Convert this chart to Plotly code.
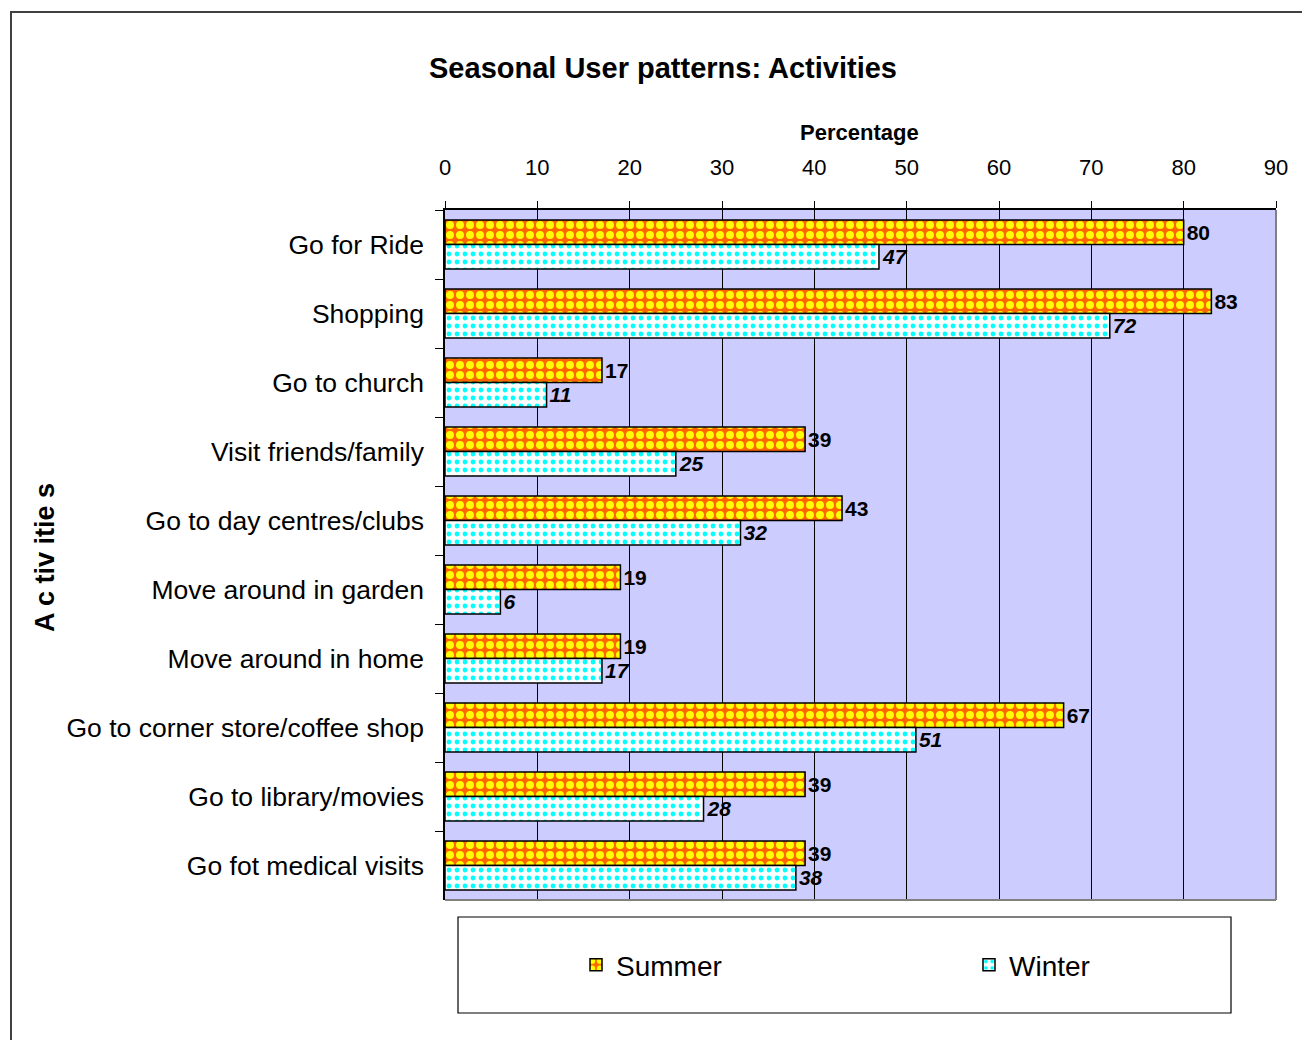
import plotly.graph_objects as go

# Activity categories, top to bottom
activities = [
    "Go for Ride",
    "Shopping",
    "Go to church",
    "Visit friends/family",
    "Go to day centres/clubs",
    "Move around in garden",
    "Move around in home",
    "Go to corner store/coffee shop",
    "Go to library/movies",
    "Go fot medical visits",
]

# Percentage of users doing each activity per season
summer = [80, 83, 17, 39, 43, 19, 19, 67, 39, 39]
winter = [47, 72, 11, 25, 32, 6, 17, 51, 28, 38]

x_ticks = [0, 10, 20, 30, 40, 50, 60, 70, 80, 90]

FONT = "Liberation Sans, Arial, sans-serif"

fig = go.Figure()

fig.add_trace(go.Bar(
    name="Summer",
    y=activities,
    x=summer,
    orientation="h",
    marker=dict(
        color="#FF6600",
        line=dict(color="black", width=1.5),
        pattern=dict(shape=".", bgcolor="#FF6600", fgcolor="#FFFF00",
                     size=10, solidity=0.5, fillmode="replace"),
    ),
    text=[str(v) for v in summer],
    textposition="outside",
    textfont=dict(family=FONT, size=21, color="black", weight="bold"),
    cliponaxis=False,
))

fig.add_trace(go.Bar(
    name="Winter",
    y=activities,
    x=winter,
    orientation="h",
    marker=dict(
        color="#FFFFFF",
        line=dict(color="black", width=1.5),
        pattern=dict(shape=".", bgcolor="#FFFFFF", fgcolor="#00FFFF",
                     size=8, solidity=0.28, fillmode="replace"),
    ),
    text=[str(v) for v in winter],
    textposition="outside",
    textfont=dict(family=FONT, size=21, color="black", weight="bold",
                  style="italic"),
    cliponaxis=False,
))

L, R, T, B = 445, 26, 210, 140
W, H = 1302, 1040
pw, ph = W - L - R, H - T - B


def px_x(x):
    return (x - L) / pw


def px_y(y):
    return (H - B - y) / ph


fig.update_layout(
    width=W,
    height=H,
    autosize=False,
    margin=dict(l=L, r=R, t=T, b=B, pad=0, autoexpand=False),
    paper_bgcolor="white",
    plot_bgcolor="#CCCCFF",
    barmode="group",
    bargap=0.29,
    bargroupgap=0.0,
    font=dict(family=FONT, color="black"),
    title=dict(
        text="Seasonal User patterns: Activities",
        x=663 / W, xanchor="center",
        y=1 - 68 / H, yanchor="middle",
        font=dict(family=FONT, size=29, weight="bold", color="black"),
    ),
    xaxis=dict(
        side="top",
        range=[0, 90],
        tickvals=x_ticks,
        ticktext=[str(t) for t in x_ticks],
        showgrid=True,
        gridcolor="black",
        gridwidth=1,
        showline=True,
        linecolor="black",
        linewidth=1.5,
        ticks="outside",
        ticklen=7,
        tickcolor="black",
        ticklabelstandoff=17,
        tickfont=dict(family=FONT, size=22, color="black"),
        zeroline=False,
        automargin=False,
        fixedrange=True,
    ),
    yaxis=dict(
        categoryorder="array",
        categoryarray=activities,
        autorange="reversed",
        showline=True,
        linecolor="black",
        linewidth=1.5,
        ticks="outside",
        tickson="boundaries",
        ticklen=8,
        tickcolor="black",
        ticklabelstandoff=14,
        tickfont=dict(family=FONT, size=26.5, color="black"),
        showgrid=False,
        automargin=False,
        fixedrange=True,
    ),
    legend=dict(
        orientation="h",
        x=px_x(576), xanchor="left",
        y=px_y(965), yanchor="middle",
        font=dict(family=FONT, size=28, color="black"),
        entrywidth=348,
        entrywidthmode="pixels",
        bgcolor="rgba(0,0,0,0)",
        borderwidth=0,
        traceorder="normal",
    ),
    showlegend=True,
)

fig.add_annotation(
    text="Percentage",
    xref="paper", yref="paper",
    x=px_x(859), y=px_y(132),
    xanchor="center", yanchor="middle",
    showarrow=False,
    font=dict(family=FONT, size=22, weight="bold", color="black"),
)

fig.add_annotation(
    text="A c tiv itie s",
    xref="paper", yref="paper",
    x=px_x(45), y=px_y(558),
    xanchor="center", yanchor="middle",
    textangle=-90,
    showarrow=False,
    font=dict(family=FONT, size=27, weight="bold", color="black"),
)

# Outer chart frame
fig.add_shape(type="rect", xref="paper", yref="paper",
              x0=px_x(11), x1=px_x(1320), y0=px_y(1060), y1=px_y(12),
              line=dict(color="#404040", width=2), fillcolor="rgba(0,0,0,0)",
              layer="below")

# Legend frame
fig.add_shape(type="rect", xref="paper", yref="paper",
              x0=px_x(458), x1=px_x(1231), y0=px_y(1013), y1=px_y(917),
              line=dict(color="black", width=1.2), fillcolor="rgba(0,0,0,0)")

# Grey plot borders on right and bottom
fig.add_shape(type="line", xref="paper", yref="paper",
              x0=0, x1=1, y0=0, y1=0,
              line=dict(color="#808080", width=2))
fig.add_shape(type="line", xref="paper", yref="paper",
              x0=1, x1=1, y0=0, y1=1,
              line=dict(color="#808080", width=2))

fig.write_html("out.html")
